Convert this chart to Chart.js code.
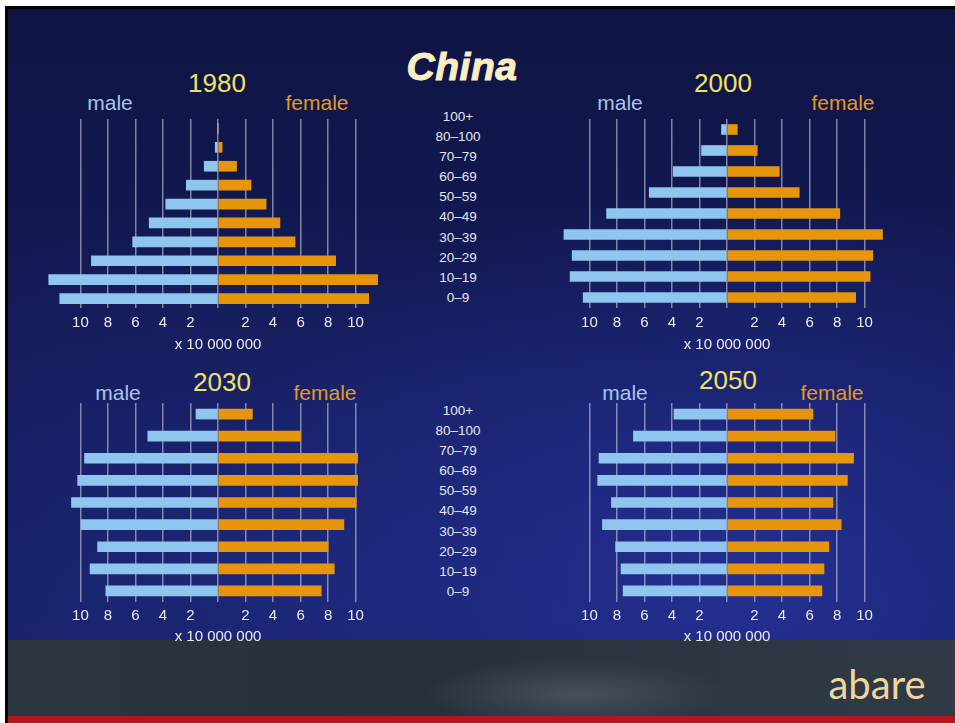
<!DOCTYPE html>
<html lang="en">
<head>
  <meta charset="UTF-8" />
  <title>China population pyramids</title>
  <script src="https://cdn.jsdelivr.net/npm/chart.js"></script>
  <style>
    body { margin: 0; width: 955px; height: 723px; background: #fff; position: relative; overflow: hidden;
           font-family: "Liberation Sans", Arial, sans-serif; }
    #frame { position: absolute; left: 5px; top: 6px; width: 950px; height: 717px;
             border-left: 3px solid #000; border-top: 3px solid #000;
             background:
               radial-gradient(ellipse 60% 55% at 78% 80%, rgba(40,52,160,0.75), rgba(40,52,160,0) 100%),
               radial-gradient(ellipse 55% 50% at 25% 78%, rgba(32,44,130,0.55), rgba(32,44,130,0) 100%),
               linear-gradient(to bottom, #0e1442 0%, #141b58 45%, #18216a 100%); }
    #footer { position: absolute; left: 8px; top: 640px; width: 947px; height: 77px;
              background:
                radial-gradient(ellipse 16% 45% at 60% 70%, rgba(200,210,225,0.18), rgba(200,210,225,0) 100%),
                linear-gradient(to right, #2b3540 0%, #27313c 45%, #303b47 100%); }
    #redline { position: absolute; left: 8px; top: 716px; width: 947px; height: 7px; background: #b3161b; }
    .txt { position: absolute; white-space: nowrap; transform: translate(-50%, -50%); }
    .year { font-size: 26px; color: #efe262; }
    .male { font-size: 21px; color: #a9c4ec; }
    .female { font-size: 21px; color: #e3991f; }
    .ages { position: absolute; width: 80px; margin-left: -40px; text-align: center;
            font-size: 13.5px; color: #e6e6f0; }
    .ages div { height: 20.1px; line-height: 20.1px; }
    .box { position: absolute; }
  </style>
</head>
<body>
  <div id="frame"></div>
  <div id="footer"></div>
  <div id="redline"></div>
  <div class="txt" style="left:462px; top:67px; font-size:39px; font-weight:bold; font-style:italic; letter-spacing:0.5px; color:#fbeec2; -webkit-text-stroke:1px #fbeec2;">China</div>
  <div class="txt" style="left:877px; top:684px; font-family:Lato, sans-serif; font-size:40px; color:#efd69c;">abare</div>
  <div id="panels"></div>

  <script>
    // age bands, top of pyramid first
    const ageGroups = ['100+', '80–100', '70–79', '60–69', '50–59', '40–49', '30–39', '20–29', '10–19', '0–9'];
    const tickValues = [-10, -8, -6, -4, -2, 0, 2, 4, 6, 8, 10];
    const years = ['1980', '2000', '2030', '2050'];

    // population, x 10 000 000
    const male1980 = [0, 0.2, 1.0, 2.3, 3.8, 5.0, 6.2, 9.2, 12.3, 11.5];
    const female1980 = [0, 0.3, 1.35, 2.4, 3.5, 4.5, 5.6, 8.55, 11.6, 10.95];
    const male2000 = [0.4, 1.85, 3.9, 5.65, 8.75, 11.85, 11.25, 11.4, 10.45];
    const female2000 = [0.75, 2.2, 3.8, 5.25, 8.2, 11.3, 10.6, 10.4, 9.35];
    const male2030 = [1.6, 5.1, 9.7, 10.2, 10.65, 9.95, 8.75, 9.3, 8.15];
    const female2030 = [2.5, 6.0, 10.15, 10.15, 10.05, 9.15, 8.0, 8.45, 7.5];
    const male2050 = [3.85, 6.8, 9.3, 9.4, 8.4, 9.05, 8.1, 7.7, 7.55];
    const female2050 = [6.25, 7.85, 9.2, 8.75, 7.7, 8.3, 7.4, 7.05, 6.9];

    const maleSeries = [male1980, male2000, male2030, male2050];
    const femaleSeries = [female1980, female2000, female2030, female2050];

    // where each pyramid sits on the slide
    const layout = [
      { left: 46, top: 119, plotH: 189, pad: 6, yearX: 217, yearY: 83, maleX: 110, femaleX: 317, sexY: 103 },
      { left: 555, top: 119, plotH: 189, pad: 6, yearX: 723, yearY: 83, maleX: 620, femaleX: 843, sexY: 103 },
      { left: 46, top: 403, plotH: 198, pad: 5, yearX: 222, yearY: 382, maleX: 118, femaleX: 325, sexY: 393 },
      { left: 555, top: 403, plotH: 198, pad: 5, yearX: 728, yearY: 380, maleX: 625, femaleX: 832, sexY: 393 }
    ];

    const holder = document.getElementById('panels');

    function addText(cls, text, x, y) {
      const el = document.createElement('div');
      el.className = 'txt ' + cls;
      el.textContent = text;
      el.style.left = x + 'px';
      el.style.top = y + 'px';
      holder.appendChild(el);
    }

    function addAgeColumn(top) {
      const col = document.createElement('div');
      col.className = 'ages';
      col.style.left = '458px';
      col.style.top = (top - 10) + 'px';
      ageGroups.forEach(a => {
        const d = document.createElement('div');
        d.textContent = a;
        col.appendChild(d);
      });
      holder.appendChild(col);
    }

    function renderPyramid(i) {
      const L = layout[i];
      const male = maleSeries[i];
      const female = femaleSeries[i];
      const labels = ageGroups.slice(ageGroups.length - male.length);

      addText('year', years[i], L.yearX, L.yearY);
      addText('male', 'male', L.maleX, L.sexY);
      addText('female', 'female', L.femaleX, L.sexY);

      // tick labels take 24px, the axis title 20px
      const box = document.createElement('div');
      box.className = 'box';
      box.style.left = L.left + 'px';
      box.style.top = L.top + 'px';
      box.style.width = '344px';
      box.style.height = (L.plotH + L.pad + 24 + 20) + 'px';
      const canvas = document.createElement('canvas');
      box.appendChild(canvas);
      holder.appendChild(box);

      new Chart(canvas, {
        type: 'bar',
        data: {
          labels,
          datasets: [
            { label: 'male', data: male.map(v => -v), backgroundColor: '#8ec6ef', barThickness: 10 },
            { label: 'female', data: female, backgroundColor: '#e7950d', barThickness: 10 }
          ]
        },
        options: {
          indexAxis: 'y',
          responsive: true,
          maintainAspectRatio: false,
          animation: false,
          layout: { padding: 0 },
          plugins: { legend: { display: false }, tooltip: { enabled: false } },
          scales: {
            x: {
              type: 'linear',
              min: -12.5,
              max: 12.5,
              stacked: true,
              afterBuildTicks: s => { s.ticks = tickValues.map(v => ({ value: v })); },
              grid: { color: 'rgba(205,205,220,0.6)', lineWidth: 1.5, drawTicks: false },
              border: { display: false },
              ticks: {
                autoSkip: false,
                maxRotation: 0,
                padding: L.pad,
                color: '#ececf4',
                font: { family: '"Liberation Sans", Arial, sans-serif', size: 15 },
                callback: v => v === 0 ? '' : Math.abs(v)
              },
              title: {
                display: true,
                text: 'x 10 000 000',
                color: '#ececf4',
                padding: { top: -2, bottom: 4 },
                font: { family: '"Liberation Sans", Arial, sans-serif', size: 15 }
              }
            },
            y: { stacked: true, display: false }
          }
        }
      });
    }

    addAgeColumn(117);
    addAgeColumn(411);
    years.forEach((y, i) => renderPyramid(i));
  </script>
</body>
</html>
